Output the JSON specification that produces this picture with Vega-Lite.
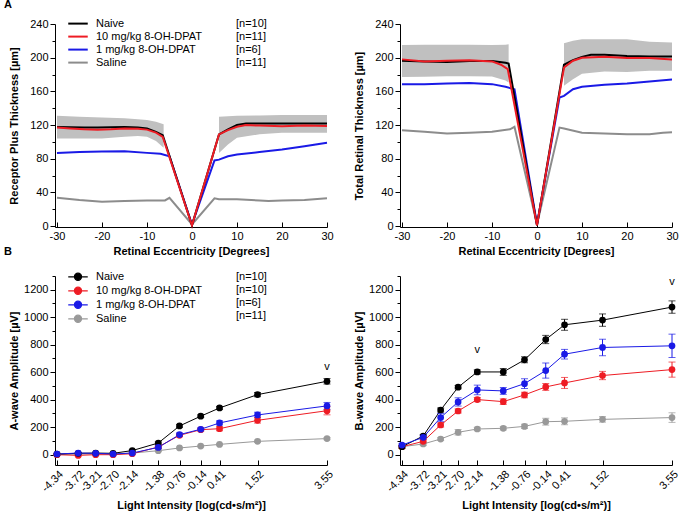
{
"$schema":"https://vega.github.io/schema/vega-lite/v6.json",
"padding":{"left":4,"top":-1,"right":5,"bottom":5},
"config":{
 "font":"Liberation Sans",
 "view":{"stroke":null},
 "axis":{"grid":false,"labelOverlap":false,"tickCount":30,"domainColor":"#000","tickColor":"#000","labelColor":"#000","titleColor":"#000","labelFontSize":11,"titleFontSize":11,"titleFontWeight":"bold","labelFont":"Liberation Sans","titleFont":"Liberation Sans","domainWidth":1,"tickWidth":1},
 "legend":{"labelFontSize":11,"labelFont":"Liberation Sans","labelColor":"#000"},
 "title":{"fontSize":11,"fontWeight":"bold","font":"Liberation Sans","color":"#000"}
},
"datasets":{
 "rpt":[
  {"group":"Saline","x":-30,"y":33.7},{"group":"Saline","x":-25,"y":31},{"group":"Saline","x":-20,"y":29},{"group":"Saline","x":-15,"y":30},{"group":"Saline","x":-10,"y":30.5},{"group":"Saline","x":-6,"y":30.5},{"group":"Saline","x":-5,"y":33.7},{"group":"Saline","x":0,"y":2},{"group":"Saline","x":5,"y":33},{"group":"Saline","x":6,"y":32},{"group":"Saline","x":10,"y":32},{"group":"Saline","x":15,"y":30.5},{"group":"Saline","x":17,"y":30},{"group":"Saline","x":20,"y":30.5},{"group":"Saline","x":25,"y":31},{"group":"Saline","x":30,"y":33},
  {"group":"1 mg/kg 8-OH-DPAT","x":-30,"y":87},{"group":"1 mg/kg 8-OH-DPAT","x":-25,"y":88},{"group":"1 mg/kg 8-OH-DPAT","x":-20,"y":88.5},{"group":"1 mg/kg 8-OH-DPAT","x":-15,"y":89},{"group":"1 mg/kg 8-OH-DPAT","x":-10,"y":87},{"group":"1 mg/kg 8-OH-DPAT","x":-7,"y":86},{"group":"1 mg/kg 8-OH-DPAT","x":-5,"y":83},{"group":"1 mg/kg 8-OH-DPAT","x":0,"y":2},{"group":"1 mg/kg 8-OH-DPAT","x":5,"y":78},{"group":"1 mg/kg 8-OH-DPAT","x":6,"y":79},{"group":"1 mg/kg 8-OH-DPAT","x":8,"y":83},{"group":"1 mg/kg 8-OH-DPAT","x":10,"y":85},{"group":"1 mg/kg 8-OH-DPAT","x":15,"y":88},{"group":"1 mg/kg 8-OH-DPAT","x":20,"y":91},{"group":"1 mg/kg 8-OH-DPAT","x":25,"y":95},{"group":"1 mg/kg 8-OH-DPAT","x":30,"y":99},
  {"group":"Naive","x":-30,"y":117.8},{"group":"Naive","x":-27,"y":117.5},{"group":"Naive","x":-24,"y":117},{"group":"Naive","x":-21,"y":117},{"group":"Naive","x":-18,"y":117.3},{"group":"Naive","x":-15,"y":117.8},{"group":"Naive","x":-12,"y":117},{"group":"Naive","x":-10,"y":116},{"group":"Naive","x":-8,"y":112},{"group":"Naive","x":-6.5,"y":108},{"group":"Naive","x":0,"y":1},{"group":"Naive","x":6,"y":109},{"group":"Naive","x":8,"y":115},{"group":"Naive","x":10,"y":120},{"group":"Naive","x":12,"y":121.8},{"group":"Naive","x":15,"y":122},{"group":"Naive","x":20,"y":121.8},{"group":"Naive","x":25,"y":121.8},{"group":"Naive","x":30,"y":121.8},
  {"group":"10 mg/kg 8-OH-DPAT","x":-30,"y":117},{"group":"10 mg/kg 8-OH-DPAT","x":-27,"y":116},{"group":"10 mg/kg 8-OH-DPAT","x":-24,"y":115},{"group":"10 mg/kg 8-OH-DPAT","x":-21,"y":114.6},{"group":"10 mg/kg 8-OH-DPAT","x":-18,"y":115},{"group":"10 mg/kg 8-OH-DPAT","x":-15,"y":115.8},{"group":"10 mg/kg 8-OH-DPAT","x":-12,"y":115.5},{"group":"10 mg/kg 8-OH-DPAT","x":-10,"y":114.6},{"group":"10 mg/kg 8-OH-DPAT","x":-8,"y":111},{"group":"10 mg/kg 8-OH-DPAT","x":-6.5,"y":106},{"group":"10 mg/kg 8-OH-DPAT","x":0,"y":1},{"group":"10 mg/kg 8-OH-DPAT","x":6,"y":109},{"group":"10 mg/kg 8-OH-DPAT","x":8,"y":114},{"group":"10 mg/kg 8-OH-DPAT","x":10,"y":118},{"group":"10 mg/kg 8-OH-DPAT","x":12,"y":120},{"group":"10 mg/kg 8-OH-DPAT","x":15,"y":119.4},{"group":"10 mg/kg 8-OH-DPAT","x":20,"y":118.6},{"group":"10 mg/kg 8-OH-DPAT","x":25,"y":119.4},{"group":"10 mg/kg 8-OH-DPAT","x":30,"y":119}
 ],
 "trt":[
  {"group":"Saline","x":-30,"y":114},{"group":"Saline","x":-25,"y":112},{"group":"Saline","x":-20,"y":110},{"group":"Saline","x":-15,"y":111},{"group":"Saline","x":-10,"y":112},{"group":"Saline","x":-6,"y":115},{"group":"Saline","x":-5,"y":118},{"group":"Saline","x":0,"y":2},{"group":"Saline","x":5,"y":117},{"group":"Saline","x":6,"y":116},{"group":"Saline","x":10,"y":111},{"group":"Saline","x":15,"y":110},{"group":"Saline","x":20,"y":109},{"group":"Saline","x":25,"y":109},{"group":"Saline","x":28,"y":111},{"group":"Saline","x":30,"y":111.5},
  {"group":"1 mg/kg 8-OH-DPAT","x":-30,"y":168.6},{"group":"1 mg/kg 8-OH-DPAT","x":-25,"y":168.6},{"group":"1 mg/kg 8-OH-DPAT","x":-20,"y":169.4},{"group":"1 mg/kg 8-OH-DPAT","x":-15,"y":170},{"group":"1 mg/kg 8-OH-DPAT","x":-10,"y":168.6},{"group":"1 mg/kg 8-OH-DPAT","x":-7,"y":165.4},{"group":"1 mg/kg 8-OH-DPAT","x":-5,"y":162.6},{"group":"1 mg/kg 8-OH-DPAT","x":0,"y":2},{"group":"1 mg/kg 8-OH-DPAT","x":5,"y":152.7},{"group":"1 mg/kg 8-OH-DPAT","x":6,"y":154.7},{"group":"1 mg/kg 8-OH-DPAT","x":8,"y":162.6},{"group":"1 mg/kg 8-OH-DPAT","x":10,"y":165.4},{"group":"1 mg/kg 8-OH-DPAT","x":15,"y":167.8},{"group":"1 mg/kg 8-OH-DPAT","x":20,"y":169.4},{"group":"1 mg/kg 8-OH-DPAT","x":25,"y":171.8},{"group":"1 mg/kg 8-OH-DPAT","x":30,"y":174},
  {"group":"Naive","x":-30,"y":196.4},{"group":"Naive","x":-25,"y":195.5},{"group":"Naive","x":-20,"y":195},{"group":"Naive","x":-15,"y":196},{"group":"Naive","x":-10,"y":196},{"group":"Naive","x":-7,"y":194},{"group":"Naive","x":-6.3,"y":193},{"group":"Naive","x":0,"y":1},{"group":"Naive","x":6,"y":191.6},{"group":"Naive","x":8,"y":197},{"group":"Naive","x":10,"y":201},{"group":"Naive","x":12,"y":203.5},{"group":"Naive","x":15,"y":203.5},{"group":"Naive","x":20,"y":202},{"group":"Naive","x":25,"y":201.5},{"group":"Naive","x":30,"y":201.5},
  {"group":"10 mg/kg 8-OH-DPAT","x":-30,"y":198},{"group":"10 mg/kg 8-OH-DPAT","x":-25,"y":195.6},{"group":"10 mg/kg 8-OH-DPAT","x":-20,"y":196.4},{"group":"10 mg/kg 8-OH-DPAT","x":-15,"y":197},{"group":"10 mg/kg 8-OH-DPAT","x":-10,"y":195.6},{"group":"10 mg/kg 8-OH-DPAT","x":-8,"y":191.6},{"group":"10 mg/kg 8-OH-DPAT","x":-6.5,"y":186.4},{"group":"10 mg/kg 8-OH-DPAT","x":0,"y":1},{"group":"10 mg/kg 8-OH-DPAT","x":6,"y":188.4},{"group":"10 mg/kg 8-OH-DPAT","x":8,"y":196.4},{"group":"10 mg/kg 8-OH-DPAT","x":10,"y":200},{"group":"10 mg/kg 8-OH-DPAT","x":15,"y":201},{"group":"10 mg/kg 8-OH-DPAT","x":20,"y":199.5},{"group":"10 mg/kg 8-OH-DPAT","x":25,"y":199.5},{"group":"10 mg/kg 8-OH-DPAT","x":30,"y":198}
 ],
 "rptBand":[
  {"side":"L","x":-30,"lo":104,"hi":131},{"side":"L","x":-25,"lo":104,"hi":130},{"side":"L","x":-20,"lo":104,"hi":129},{"side":"L","x":-15,"lo":106,"hi":128},{"side":"L","x":-12,"lo":107,"hi":127},{"side":"L","x":-10,"lo":106,"hi":126},{"side":"L","x":-8,"lo":101,"hi":124},{"side":"L","x":-6.3,"lo":93,"hi":121},
  {"side":"R","x":6,"lo":87,"hi":130},{"side":"R","x":8,"lo":97,"hi":130.5},{"side":"R","x":10,"lo":105,"hi":131},{"side":"R","x":15,"lo":109,"hi":131.5},{"side":"R","x":20,"lo":111,"hi":132},{"side":"R","x":25,"lo":111,"hi":132},{"side":"R","x":30,"lo":111,"hi":132}
 ],
 "trtBand":[
  {"side":"L","x":-30,"lo":177,"hi":215},{"side":"L","x":-25,"lo":177.5,"hi":215.5},{"side":"L","x":-20,"lo":178,"hi":215.4},{"side":"L","x":-15,"lo":178,"hi":215.5},{"side":"L","x":-10,"lo":177.7,"hi":215},{"side":"L","x":-7,"lo":173,"hi":215.5},{"side":"L","x":-6.3,"lo":170.6,"hi":216},
  {"side":"R","x":6,"lo":166.6,"hi":217},{"side":"R","x":8,"lo":174.5,"hi":220},{"side":"R","x":10,"lo":181,"hi":222},{"side":"R","x":15,"lo":183.6,"hi":222},{"side":"R","x":20,"lo":183,"hi":222},{"side":"R","x":25,"lo":184.5,"hi":219},{"side":"R","x":30,"lo":184.5,"hi":218}
 ],
 "awave":[
  {"group":"Saline","x":-4.34,"y":0,"lo":-3,"hi":3},{"group":"Saline","x":-3.72,"y":5,"lo":2,"hi":8},{"group":"Saline","x":-3.21,"y":5,"lo":2,"hi":8},{"group":"Saline","x":-2.70,"y":5,"lo":2,"hi":8},{"group":"Saline","x":-2.14,"y":12,"lo":8,"hi":16},{"group":"Saline","x":-1.38,"y":29,"lo":24,"hi":34},{"group":"Saline","x":-0.76,"y":49,"lo":43,"hi":55},{"group":"Saline","x":-0.14,"y":63,"lo":57,"hi":69},{"group":"Saline","x":0.41,"y":75,"lo":69,"hi":81},{"group":"Saline","x":1.52,"y":97,"lo":89,"hi":105},{"group":"Saline","x":3.55,"y":117,"lo":109,"hi":125},
  {"group":"10 mg/kg 8-OH-DPAT","x":-4.34,"y":0,"lo":-5,"hi":5},{"group":"10 mg/kg 8-OH-DPAT","x":-3.72,"y":-5,"lo":-10,"hi":0},{"group":"10 mg/kg 8-OH-DPAT","x":-3.21,"y":0,"lo":-5,"hi":5},{"group":"10 mg/kg 8-OH-DPAT","x":-2.70,"y":0,"lo":-5,"hi":5},{"group":"10 mg/kg 8-OH-DPAT","x":-2.14,"y":7,"lo":2,"hi":12},{"group":"10 mg/kg 8-OH-DPAT","x":-1.38,"y":56,"lo":48,"hi":64},{"group":"10 mg/kg 8-OH-DPAT","x":-0.76,"y":141,"lo":131,"hi":151},{"group":"10 mg/kg 8-OH-DPAT","x":-0.14,"y":182,"lo":172,"hi":192},{"group":"10 mg/kg 8-OH-DPAT","x":0.41,"y":189,"lo":174,"hi":204},{"group":"10 mg/kg 8-OH-DPAT","x":1.52,"y":250,"lo":230,"hi":270},{"group":"10 mg/kg 8-OH-DPAT","x":3.55,"y":320,"lo":290,"hi":350},
  {"group":"Naive","x":-4.34,"y":5,"lo":0,"hi":10},{"group":"Naive","x":-3.72,"y":10,"lo":5,"hi":15},{"group":"Naive","x":-3.21,"y":12,"lo":7,"hi":17},{"group":"Naive","x":-2.70,"y":10,"lo":5,"hi":15},{"group":"Naive","x":-2.14,"y":30,"lo":24,"hi":36},{"group":"Naive","x":-1.38,"y":85,"lo":77,"hi":93},{"group":"Naive","x":-0.76,"y":209,"lo":199,"hi":219},{"group":"Naive","x":-0.14,"y":280,"lo":270,"hi":290},{"group":"Naive","x":0.41,"y":340,"lo":330,"hi":350},{"group":"Naive","x":1.52,"y":437,"lo":422,"hi":452},{"group":"Naive","x":3.55,"y":534,"lo":514,"hi":554},
  {"group":"1 mg/kg 8-OH-DPAT","x":-4.34,"y":5,"lo":0,"hi":10},{"group":"1 mg/kg 8-OH-DPAT","x":-3.72,"y":12,"lo":7,"hi":17},{"group":"1 mg/kg 8-OH-DPAT","x":-3.21,"y":10,"lo":5,"hi":15},{"group":"1 mg/kg 8-OH-DPAT","x":-2.70,"y":5,"lo":0,"hi":10},{"group":"1 mg/kg 8-OH-DPAT","x":-2.14,"y":12,"lo":7,"hi":17},{"group":"1 mg/kg 8-OH-DPAT","x":-1.38,"y":53,"lo":45,"hi":61},{"group":"1 mg/kg 8-OH-DPAT","x":-0.76,"y":146,"lo":134,"hi":158},{"group":"1 mg/kg 8-OH-DPAT","x":-0.14,"y":185,"lo":175,"hi":195},{"group":"1 mg/kg 8-OH-DPAT","x":0.41,"y":231,"lo":216,"hi":246},{"group":"1 mg/kg 8-OH-DPAT","x":1.52,"y":289,"lo":269,"hi":309},{"group":"1 mg/kg 8-OH-DPAT","x":3.55,"y":355,"lo":330,"hi":380}
 ],
 "bwave":[
  {"group":"Saline","x":-4.34,"y":58,"lo":48,"hi":68},{"group":"Saline","x":-3.72,"y":78,"lo":66,"hi":90},{"group":"Saline","x":-3.21,"y":114,"lo":104,"hi":124},{"group":"Saline","x":-2.70,"y":163,"lo":143,"hi":183},{"group":"Saline","x":-2.14,"y":187,"lo":175,"hi":199},{"group":"Saline","x":-1.38,"y":192,"lo":180,"hi":204},{"group":"Saline","x":-0.76,"y":206,"lo":191,"hi":221},{"group":"Saline","x":-0.14,"y":240,"lo":215,"hi":265},{"group":"Saline","x":0.41,"y":243,"lo":218,"hi":268},{"group":"Saline","x":1.52,"y":257,"lo":237,"hi":277},{"group":"Saline","x":3.55,"y":270,"lo":235,"hi":305},
  {"group":"10 mg/kg 8-OH-DPAT","x":-4.34,"y":58,"lo":48,"hi":68},{"group":"10 mg/kg 8-OH-DPAT","x":-3.72,"y":97,"lo":85,"hi":109},{"group":"10 mg/kg 8-OH-DPAT","x":-3.21,"y":216,"lo":201,"hi":231},{"group":"10 mg/kg 8-OH-DPAT","x":-2.70,"y":318,"lo":303,"hi":333},{"group":"10 mg/kg 8-OH-DPAT","x":-2.14,"y":401,"lo":386,"hi":416},{"group":"10 mg/kg 8-OH-DPAT","x":-1.38,"y":386,"lo":366,"hi":406},{"group":"10 mg/kg 8-OH-DPAT","x":-0.76,"y":435,"lo":415,"hi":455},{"group":"10 mg/kg 8-OH-DPAT","x":-0.14,"y":493,"lo":468,"hi":518},{"group":"10 mg/kg 8-OH-DPAT","x":0.41,"y":522,"lo":482,"hi":562},{"group":"10 mg/kg 8-OH-DPAT","x":1.52,"y":576,"lo":546,"hi":606},{"group":"10 mg/kg 8-OH-DPAT","x":3.55,"y":619,"lo":564,"hi":674},
  {"group":"Naive","x":-4.34,"y":58,"lo":48,"hi":68},{"group":"Naive","x":-3.72,"y":136,"lo":126,"hi":146},{"group":"Naive","x":-3.21,"y":325,"lo":310,"hi":340},{"group":"Naive","x":-2.70,"y":491,"lo":479,"hi":503},{"group":"Naive","x":-2.14,"y":602,"lo":587,"hi":617},{"group":"Naive","x":-1.38,"y":602,"lo":577,"hi":627},{"group":"Naive","x":-0.76,"y":690,"lo":668,"hi":712},{"group":"Naive","x":-0.14,"y":838,"lo":808,"hi":868},{"group":"Naive","x":0.41,"y":945,"lo":905,"hi":985},{"group":"Naive","x":1.52,"y":979,"lo":934,"hi":1024},{"group":"Naive","x":3.55,"y":1074,"lo":1029,"hi":1119},
  {"group":"1 mg/kg 8-OH-DPAT","x":-4.34,"y":70,"lo":60,"hi":80},{"group":"1 mg/kg 8-OH-DPAT","x":-3.72,"y":126,"lo":111,"hi":141},{"group":"1 mg/kg 8-OH-DPAT","x":-3.21,"y":270,"lo":240,"hi":300},{"group":"1 mg/kg 8-OH-DPAT","x":-2.70,"y":384,"lo":354,"hi":414},{"group":"1 mg/kg 8-OH-DPAT","x":-2.14,"y":471,"lo":436,"hi":506},{"group":"1 mg/kg 8-OH-DPAT","x":-1.38,"y":464,"lo":439,"hi":489},{"group":"1 mg/kg 8-OH-DPAT","x":-0.76,"y":517,"lo":482,"hi":552},{"group":"1 mg/kg 8-OH-DPAT","x":-0.14,"y":612,"lo":557,"hi":667},{"group":"1 mg/kg 8-OH-DPAT","x":0.41,"y":731,"lo":696,"hi":766},{"group":"1 mg/kg 8-OH-DPAT","x":1.52,"y":780,"lo":720,"hi":840},{"group":"1 mg/kg 8-OH-DPAT","x":3.55,"y":792,"lo":707,"hi":877}
 ],
 "aMarks":[{"x":3.55,"y":640,"label":"v"}],
 "bMarks":[{"x":-2.14,"y":760,"label":"v"},{"x":3.55,"y":1255,"label":"v"}]
},
"columns":2,
"bounds":"flush",
"spacing":{"row":49,"column":73},
"resolve":{"scale":{"color":"independent","fill":"independent","stroke":"independent","opacity":"independent","x":"independent","y":"independent"},"legend":{"color":"independent","fill":"independent","stroke":"independent","opacity":"independent"}},
"concat":[
 {
  "title":{"text":"A","anchor":"start","frame":"group","dx":-51,"offset":6},
  "width":272,"height":203,
  "layer":[
   {"data":{"name":"rptBand"},"mark":{"type":"area","color":"#c0c0c0"},
    "encoding":{
     "x":{"field":"x","type":"quantitative","scale":{"domain":[-30.44,30],"nice":false,"zero":false},"axis":{"title":"Retinal Eccentricity [Degrees]","values":[-30,-20,-10,0,10,20,30],"tickCount":30,"tickSize":-5,"labelPadding":8,"labelFlush":false,"labelOverlap":false,"labelExpr":"replace(datum.label,'−','-')","titlePadding":4}},
     "y":{"field":"lo","type":"quantitative","scale":{"domain":[-1,240],"nice":false,"zero":false},"axis":{"title":"Receptor Plus Thickness [µm]","values":[0,20,40,60,80,100,120,140,160,180,200,220,240],"tickCount":30,"format":"d","labelOverlap":false,"labelExpr":"datum.value % 40 === 0 ? datum.label : ''","tickSize":{"condition":{"test":"datum.value % 40 === 0","value":5},"value":3},"titlePadding":10}},
     "y2":{"field":"hi"},
     "detail":{"field":"side"}}},
   {"data":{"name":"rpt"},"mark":{"type":"line","strokeWidth":2},
    "encoding":{
     "x":{"field":"x","type":"quantitative"},
     "y":{"field":"y","type":"quantitative"},
     "color":{"field":"group","type":"nominal","scale":{"domain":["Naive","10 mg/kg 8-OH-DPAT","1 mg/kg 8-OH-DPAT","Saline"],"range":["#000000","#ee1c24","#1a1ae6","#8c8c8c"]},
      "legend":{"orient":"none","legendX":15.5,"legendY":-7.9,"title":null,"symbolType":"M-1.5,0H1.5","symbolSize":169,"symbolStrokeWidth":2,"labelOffset":10.5,"rowPadding":0,"padding":0}},
     "opacity":{"field":"group","type":"nominal","sort":["Naive","10 mg/kg 8-OH-DPAT","1 mg/kg 8-OH-DPAT","Saline"],"scale":{"range":[1,1]},
      "legend":{"orient":"none","legendX":166,"legendY":-7.9,"title":null,"symbolType":"M0,0","symbolSize":169,"symbolOpacity":0,"labelOffset":0,"rowPadding":0,"padding":0,
       "labelExpr":"datum.label==='Naive'?'[n=10]':datum.label==='10 mg/kg 8-OH-DPAT'?'[n=11]':datum.label==='1 mg/kg 8-OH-DPAT'?'[n=6]':'[n=11]'"}}}}
  ]
 },
 {
  "width":272,"height":203,
  "layer":[
   {"data":{"name":"trtBand"},"mark":{"type":"area","color":"#c0c0c0"},
    "encoding":{
     "x":{"field":"x","type":"quantitative","scale":{"domain":[-30.44,30],"nice":false,"zero":false},"axis":{"title":"Retinal Eccentricity [Degrees]","values":[-30,-20,-10,0,10,20,30],"tickCount":30,"tickSize":-5,"labelPadding":8,"labelFlush":false,"labelOverlap":false,"labelExpr":"replace(datum.label,'−','-')","titlePadding":4}},
     "y":{"field":"lo","type":"quantitative","scale":{"domain":[-1,240],"nice":false,"zero":false},"axis":{"title":"Total Retinal Thickness [µm]","values":[0,20,40,60,80,100,120,140,160,180,200,220,240],"tickCount":30,"format":"d","labelOverlap":false,"labelExpr":"datum.value % 40 === 0 ? datum.label : ''","tickSize":{"condition":{"test":"datum.value % 40 === 0","value":5},"value":3},"titlePadding":10}},
     "y2":{"field":"hi"},
     "detail":{"field":"side"}}},
   {"data":{"name":"trt"},"mark":{"type":"line","strokeWidth":2},
    "encoding":{
     "x":{"field":"x","type":"quantitative"},
     "y":{"field":"y","type":"quantitative"},
     "color":{"field":"group","type":"nominal","scale":{"domain":["Naive","10 mg/kg 8-OH-DPAT","1 mg/kg 8-OH-DPAT","Saline"],"range":["#000000","#ee1c24","#1a1ae6","#8c8c8c"]},"legend":null}}}
  ]
 },
 {
  "title":{"text":"B","anchor":"start","frame":"group","dx":-51,"offset":12},
  "width":272,"height":189,
  "layer":[
   {"data":{"name":"awave"},"mark":{"type":"line","strokeWidth":1},
    "encoding":{
     "x":{"field":"x","type":"quantitative","scale":{"domain":[-4.398,3.55],"nice":false,"zero":false},"axis":{"title":"Light Intensity [log(cd•s/m²)]","values":[-4.34,-3.72,-3.21,-2.70,-2.14,-1.38,-0.76,-0.14,0.41,1.52,3.55],"tickCount":30,"format":".2f","labelOverlap":false,"labelExpr":"replace(datum.label,'−','-')","labelAngle":-45,"tickSize":-5,"labelPadding":8,"labelFlush":false,"titlePadding":6}},
     "y":{"field":"y","type":"quantitative","title":"A-wave Amplitude [µV]","scale":{"domain":[-75,1300],"nice":false,"zero":false},"axis":{"title":"A-wave Amplitude [µV]","values":[0,100,200,300,400,500,600,700,800,900,1000,1100,1200,1300],"tickCount":30,"format":"d","labelOverlap":false,"labelExpr":"datum.value % 200 === 0 ? datum.label : ''","tickSize":{"condition":{"test":"datum.value % 200 === 0","value":5},"value":3},"titlePadding":4}},
     "stroke":{"field":"group","type":"nominal","scale":{"domain":["Naive","10 mg/kg 8-OH-DPAT","1 mg/kg 8-OH-DPAT","Saline"],"range":["#000000","#ee1c24","#1a1ae6","#999999"]},
      "legend":{"orient":"none","legendX":15.5,"legendY":-6.7,"title":null,"symbolType":"M-1.5,0H1.5M0.55,0A0.55,0.55,0,1,1,-0.55,0A0.55,0.55,0,1,1,0.55,0Z","symbolSize":169,"symbolStrokeWidth":1.2,"symbolOpacity":1,"labelOffset":10.5,"rowPadding":0,"padding":0}}}},
   {"data":{"name":"awave"},"mark":{"type":"errorbar","ticks":{"size":7},"thickness":1},
    "encoding":{"x":{"field":"x","type":"quantitative"},"y":{"field":"lo","type":"quantitative","title":"A-wave Amplitude [µV]"},"y2":{"field":"hi"},
     "color":{"field":"group","type":"nominal","scale":{"domain":["Naive","10 mg/kg 8-OH-DPAT","1 mg/kg 8-OH-DPAT","Saline"],"range":["#000000","#ee1c24","#1a1ae6","#999999"]},"legend":null}}},
   {"data":{"name":"awave"},"mark":{"type":"point","filled":true,"size":45,"opacity":1,"strokeWidth":0},
    "encoding":{"x":{"field":"x","type":"quantitative"},"y":{"field":"y","type":"quantitative","title":"A-wave Amplitude [µV]"},
     "fill":{"field":"group","type":"nominal","scale":{"domain":["Naive","10 mg/kg 8-OH-DPAT","1 mg/kg 8-OH-DPAT","Saline"],"range":["#000000","#ee1c24","#1a1ae6","#999999"]},
      "legend":{"orient":"none","legendX":15.5,"legendY":-6.7,"title":null,"symbolType":"M-1.5,0H1.5M0.55,0A0.55,0.55,0,1,1,-0.55,0A0.55,0.55,0,1,1,0.55,0Z","symbolSize":169,"symbolStrokeWidth":1.2,"symbolOpacity":1,"labelOffset":10.5,"rowPadding":0,"padding":0}},
     "opacity":{"field":"group","type":"nominal","sort":["Naive","10 mg/kg 8-OH-DPAT","1 mg/kg 8-OH-DPAT","Saline"],"scale":{"range":[1,1]},
      "legend":{"orient":"none","legendX":166,"legendY":-6.7,"title":null,"symbolType":"M0,0","symbolSize":169,"symbolOpacity":0,"labelOffset":0,"rowPadding":0,"padding":0,
       "labelExpr":"datum.label==='Naive'?'[n=10]':datum.label==='10 mg/kg 8-OH-DPAT'?'[n=10]':datum.label==='1 mg/kg 8-OH-DPAT'?'[n=6]':'[n=11]'"}}}},
   {"data":{"name":"aMarks"},"mark":{"type":"text","fontSize":11,"color":"#000"},
    "encoding":{"x":{"field":"x","type":"quantitative"},"y":{"field":"y","type":"quantitative","title":"A-wave Amplitude [µV]"},"text":{"field":"label"}}}
  ]
 },
 {
  "width":272,"height":189,
  "layer":[
   {"data":{"name":"bwave"},"mark":{"type":"line","strokeWidth":1},
    "encoding":{
     "x":{"field":"x","type":"quantitative","scale":{"domain":[-4.398,3.55],"nice":false,"zero":false},"axis":{"title":"Light Intensity [log(cd•s/m²)]","values":[-4.34,-3.72,-3.21,-2.70,-2.14,-1.38,-0.76,-0.14,0.41,1.52,3.55],"tickCount":30,"format":".2f","labelOverlap":false,"labelExpr":"replace(datum.label,'−','-')","labelAngle":-45,"tickSize":-5,"labelPadding":8,"labelFlush":false,"titlePadding":6}},
     "y":{"field":"y","type":"quantitative","title":"B-wave Amplitude [µV]","scale":{"domain":[-75,1300],"nice":false,"zero":false},"axis":{"title":"B-wave Amplitude [µV]","values":[0,100,200,300,400,500,600,700,800,900,1000,1100,1200,1300],"tickCount":30,"format":"d","labelOverlap":false,"labelExpr":"datum.value % 200 === 0 ? datum.label : ''","tickSize":{"condition":{"test":"datum.value % 200 === 0","value":5},"value":3},"titlePadding":4}},
     "stroke":{"field":"group","type":"nominal","scale":{"domain":["Naive","10 mg/kg 8-OH-DPAT","1 mg/kg 8-OH-DPAT","Saline"],"range":["#000000","#ee1c24","#1a1ae6","#999999"]},"legend":null}}},
   {"data":{"name":"bwave"},"mark":{"type":"errorbar","ticks":{"size":7},"thickness":1},
    "encoding":{"x":{"field":"x","type":"quantitative"},"y":{"field":"lo","type":"quantitative","title":"B-wave Amplitude [µV]"},"y2":{"field":"hi"},
     "color":{"field":"group","type":"nominal","scale":{"domain":["Naive","10 mg/kg 8-OH-DPAT","1 mg/kg 8-OH-DPAT","Saline"],"range":["#000000","#ee1c24","#1a1ae6","#999999"]},"legend":null}}},
   {"data":{"name":"bwave"},"mark":{"type":"point","filled":true,"size":45,"opacity":1,"strokeWidth":0},
    "encoding":{"x":{"field":"x","type":"quantitative"},"y":{"field":"y","type":"quantitative","title":"B-wave Amplitude [µV]"},
     "fill":{"field":"group","type":"nominal","scale":{"domain":["Naive","10 mg/kg 8-OH-DPAT","1 mg/kg 8-OH-DPAT","Saline"],"range":["#000000","#ee1c24","#1a1ae6","#999999"]},"legend":null}}},
   {"data":{"name":"bMarks"},"mark":{"type":"text","fontSize":11,"color":"#000"},
    "encoding":{"x":{"field":"x","type":"quantitative"},"y":{"field":"y","type":"quantitative","title":"B-wave Amplitude [µV]"},"text":{"field":"label"}}}
  ]
 }
]
}
